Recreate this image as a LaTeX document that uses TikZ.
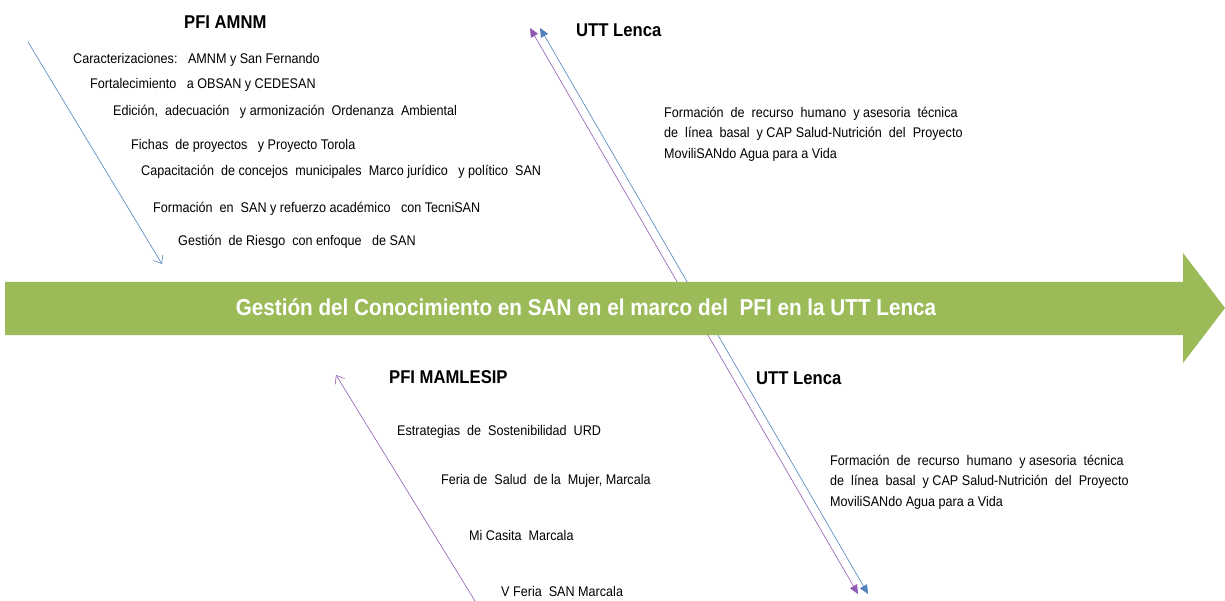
\documentclass[tikz,border=0pt]{standalone}
\usepackage{fontspec}
\setmainfont[FakeStretch=0.9]{Liberation Sans}
\usepackage{xcolor}
\usetikzlibrary{arrows.meta}
\definecolor{olGreen}{HTML}{9BBB59}
\definecolor{olBlue}{HTML}{4F81BD}
\definecolor{olPurple}{HTML}{7030A0}
\tikzstyle{item} = [anchor=west, inner sep=0pt, font=\fontsize{14}{16}\selectfont]
\tikzstyle{head} = [anchor=west, inner sep=0pt, font=\fontsize{18.5}{21}\selectfont\bfseries]
\tikzstyle{para} = [anchor=west, inner sep=0pt, align=left,
   font=\fontsize{14}{20.5}\selectfont]
\tikzstyle{thinArrow} = [semithick, -{Straight Barb[length=7pt,width=11pt]}]
\tikzstyle{dblArrow} = [semithick,
   {Triangle[length=9pt,width=8pt]}-{Triangle[length=9pt,width=8pt]}]

\begin{document}
\begin{tikzpicture}[x=1pt,y=-1pt]
  \useasboundingbox (0,0) rectangle (1225,601);

  % end points of the connectors
  \coordinate (amnmS) at (28,42);
  \coordinate (amnmE) at (162,264);
  \coordinate (mamS) at (475,601);
  \coordinate (mamE) at (336,375);
  \coordinate (lencaPA) at (530,28);
  \coordinate (lencaPB) at (858,594);
  \coordinate (lencaBA) at (540,28);
  \coordinate (lencaBB) at (868,594);

  % 1st pass: diagonal arrows
  \draw[thinArrow, olBlue] (amnmS) -- (amnmE);
  \draw[thinArrow, olPurple!80] (mamS) -- (mamE);
  \draw[dblArrow, olPurple!80] (lencaPA) -- (lencaPB);
  \draw[dblArrow, olBlue] (lencaBA) -- (lencaBB);

  % 2nd pass: main arrow on top
  \fill[olGreen] (5,282) -- (1183,282) -- (1183,253) -- (1225,308)
     -- (1183,363) -- (1183,335) -- (5,335) -- cycle;
  \node[inner sep=0pt, text=white, font=\fontsize{23}{26}\selectfont\bfseries]
     (main) at (586,307) {Gestión del Conocimiento en SAN en el marco del\ \ PFI en la UTT Lenca};

  % PFI AMNM
  \node[head] (amnm) at (184,22) {PFI AMNM};
  \node[item] (a1) at (73,60) {Caracterizaciones:\ \ \ AMNM y San Fernando};
  \node[item] (a2) at (90,85) {Fortalecimiento\ \ \ a OBSAN y CEDESAN};
  \node[item] (a3) at (113,112) {Edición,\ \ adecuación\ \ \ y armonización\ \ Ordenanza\ \ Ambiental};
  \node[item] (a4) at (131,146) {Fichas\ \ de proyectos\ \ \ y Proyecto Torola};
  \node[item] (a5) at (141,172) {Capacitación\ \ de concejos\ \ municipales\ \ Marco jurídico\ \ \ y político\ \ SAN};
  \node[item] (a6) at (153,209) {Formación\ \ en\ \ SAN y refuerzo académico\ \ \ con TecniSAN};
  \node[item] (a7) at (178,242) {Gestión\ \ de Riesgo\ \ con enfoque\ \ \ de SAN};

  % UTT Lenca (top)
  \node[head] (lencaT) at (576,30) {UTT Lenca};
  \node[para] (pT) at (664,134) {Formación\ \ de\ \ recurso\ \ humano\ \ y asesoria\ \ técnica\\
     de\ \ línea\ \ basal\ \ y CAP Salud-Nutrición\ \ del\ \ Proyecto\\
     MoviliSANdo Agua para a Vida};

  % PFI MAMLESIP
  \node[head] (mam) at (389,377) {PFI MAMLESIP};
  \node[item] (m1) at (397,432) {Estrategias\ \ de\ \ Sostenibilidad\ \ URD};
  \node[item] (m2) at (441,481) {Feria de\ \ Salud\ \ de la\ \ Mujer, Marcala};
  \node[item] (m3) at (469,535) {Mi Casita\ \ Marcala};
  \node[item] (m4) at (501,591) {V Feria\ \ SAN Marcala};

  % UTT Lenca (bottom)
  \node[head] (lencaB) at (756,378) {UTT Lenca};
  \node[para] (pB) at (830,482) {Formación\ \ de\ \ recurso\ \ humano\ \ y asesoria\ \ técnica\\
     de\ \ línea\ \ basal\ \ y CAP Salud-Nutrición\ \ del\ \ Proyecto\\
     MoviliSANdo Agua para a Vida};
\end{tikzpicture}
\end{document}
